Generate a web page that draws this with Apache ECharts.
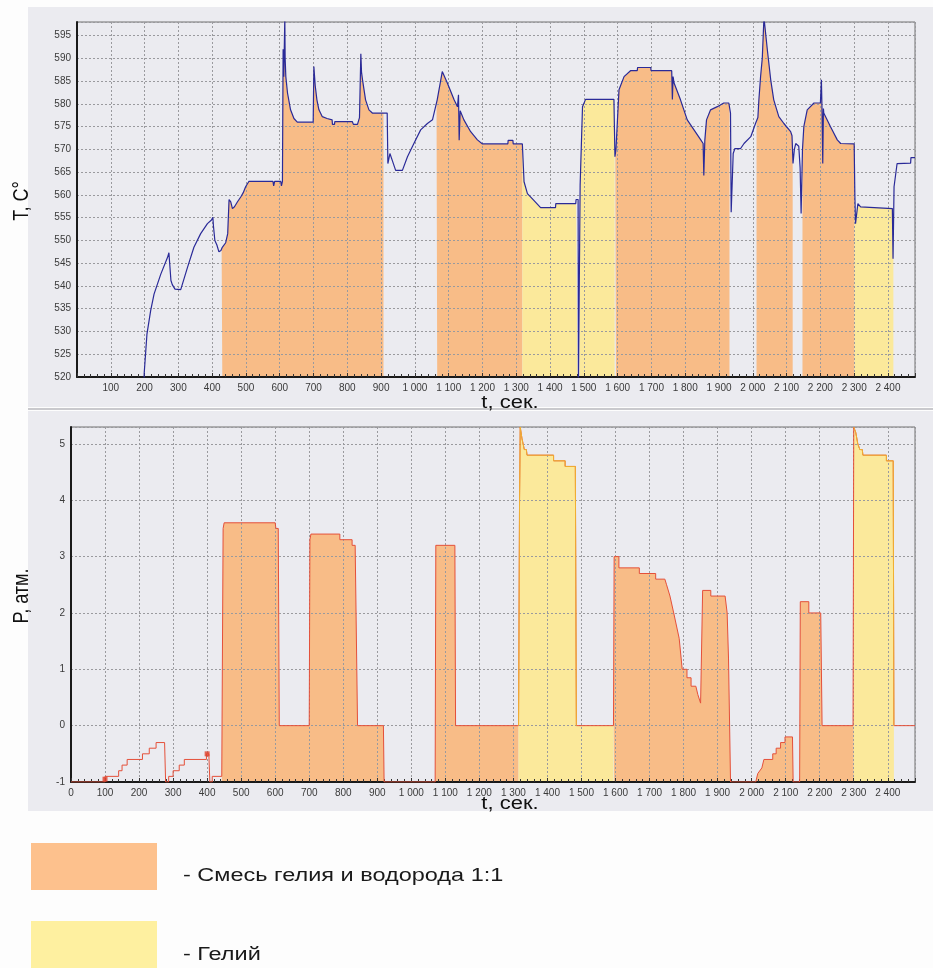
<!DOCTYPE html>
<html>
<head>
<meta charset="utf-8">
<script src="https://cdn.jsdelivr.net/npm/echarts@6/dist/echarts.min.js"></script>
<style>
  html, body { margin: 0; padding: 0; background: #fdfdfd; }
  #chart { width: 933px; height: 968px; }
</style>
</head>
<body>
<div id="chart"></div>
<script>
// Temperature of the sample, t (s) -> T (°C)
const tempTime = [
  198, 199, 207, 218, 228, 248, 268, 272, 275, 278, 282, 290, 307, 327, 346, 366, 386, 398, 402, 404,
  408, 414, 420, 426, 430, 440, 446, 450, 455, 460, 466, 475, 485, 492, 499, 509, 580, 582, 585, 603,
  605, 608, 610, 612, 615, 616, 618, 623, 632, 642, 652, 699, 701, 705, 710, 716, 726, 740, 755, 756,
  762, 763, 815, 818, 830, 836, 840, 842, 845, 854, 864, 874, 918, 920, 926, 933, 943, 963, 978, 997,
  1017, 1037, 1052, 1066, 1081, 1096, 1116, 1126, 1129, 1131, 1134, 1145, 1165, 1185, 1200, 1275, 1276, 1290, 1291, 1318,
  1323, 1333, 1352, 1372, 1416, 1417, 1476, 1477, 1483, 1484, 1487, 1489, 1496, 1505, 1589, 1592, 1595, 1604, 1619, 1638,
  1658, 1659, 1698, 1699, 1760, 1762, 1764, 1767, 1786, 1806, 1826, 1846, 1853, 1855, 1858, 1863, 1875, 1895, 1914, 1929,
  1934, 1936, 1942, 1947, 1964, 1974, 1994, 2008, 2015, 2018, 2023, 2028, 2033, 2043, 2053, 2062, 2077, 2092, 2112, 2116,
  2119, 2123, 2127, 2136, 2140, 2143, 2147, 2151, 2161, 2181, 2200, 2203, 2205, 2207, 2209, 2210, 2230, 2250, 2260, 2300,
  2302, 2304, 2311, 2319, 2320, 2413, 2415, 2418, 2427, 2430, 2467, 2468, 2480
];
const tempValue = [
  519, 521, 529.4, 534.6, 538.2, 542.6, 546.3, 547.3, 547, 541.2, 540.3, 539.3, 539.2, 544.1, 548.5, 551.5, 553.7, 554.5, 555.1, 553,
  550, 549, 547.5, 547.8, 548.5, 549.5, 551.5, 559, 558.5, 557, 557.4, 558.5, 559.6, 560.5, 561.8, 563, 563, 562, 563, 563,
  562, 563, 592, 586, 599, 590, 586, 582.4, 578.7, 576.8, 576, 576, 588.2, 584, 580.9, 578.7, 577.2, 576.8, 576.5, 575.5,
  575.5, 576.1, 576.1, 575.5, 575.5, 577, 591, 587, 585.3, 580.9, 578.7, 578, 578, 566.9, 569.1, 567.6, 565.4, 565.4, 568.4, 571.3,
  574.3, 575.7, 576.5, 580.9, 587.1, 584.6, 580.9, 579.4, 582, 572, 578.5, 576.5, 573.9, 572.1, 571.2, 571.2, 572, 572, 571.2, 571.2,
  562.9, 560.3, 558.8, 557.2, 557.2, 558.1, 558.1, 559, 559, 519, 519, 562.1, 579.4, 581, 581, 568.4, 570, 583.1, 586, 587.3,
  587.3, 588, 588, 587.3, 587.3, 581, 586, 584.6, 580.9, 576.5, 574.3, 572.1, 571.3, 564.3, 572, 576.5, 578.7, 579.4, 580.2, 580.2,
  578, 556.2, 569.1, 570.2, 570.2, 571.3, 572.8, 575.7, 577, 580.9, 586, 590, 599, 591.9, 585.3, 580.9, 577.2, 575.7, 573.9, 573,
  566.9, 570, 571.3, 570.7, 566, 555.9, 570, 575, 578.7, 580.2, 580.2, 585.3, 578, 566.9, 579, 578, 575, 572.1, 571.3, 571.2,
  560, 553.7, 558.1, 557.4, 557, 557, 546, 561.8, 566.9, 567, 567, 568.2, 568.2
];

// Chamber pressure, t (s) -> P (atm)
const pressTime = [
  0, 100, 100, 140, 140, 150, 150, 165, 165, 210, 210, 230, 230, 250, 250, 275, 278, 287, 287, 300,
  300, 318, 318, 333, 333, 398, 398, 405, 408, 415, 415, 443, 447, 450, 600, 602, 609, 612, 700, 702,
  705, 790, 790, 826, 826, 835, 842, 918, 920, 1070, 1072, 1128, 1130, 1315, 1318, 1320, 1325, 1332, 1338, 1340,
  1418, 1418, 1452, 1452, 1482, 1485, 1594, 1596, 1610, 1610, 1670, 1670, 1718, 1718, 1745, 1750, 1760, 1771, 1787, 1796,
  1810, 1810, 1822, 1822, 1836, 1842, 1850, 1855, 1856, 1880, 1880, 1922, 1928, 1932, 1938, 2012, 2018, 2030, 2036, 2062,
  2062, 2072, 2072, 2085, 2085, 2098, 2098, 2120, 2122, 2141, 2143, 2168, 2168, 2203, 2207, 2298, 2300, 2306, 2312, 2318,
  2325, 2327, 2396, 2396, 2416, 2418, 2480
];
const pressValue = [
  -1, -1, -0.9, -0.9, -0.8, -0.8, -0.7, -0.7, -0.6, -0.6, -0.5, -0.5, -0.4, -0.4, -0.3, -0.3, -1, -1, -0.9, -0.9,
  -0.8, -0.8, -0.7, -0.7, -0.6, -0.6, -0.5, -0.5, -1, -1, -0.9, -0.9, 3.5, 3.6, 3.6, 3.5, 3.5, 0, 0, 3.3,
  3.4, 3.4, 3.3, 3.3, 3.2, 3.2, 0, 0, -1, -1, 3.2, 3.2, 0, 0, 4, 5.3, 5.1, 4.9, 4.9, 4.8,
  4.8, 4.7, 4.7, 4.6, 4.6, 0, 0, 3.0, 3.0, 2.8, 2.8, 2.7, 2.7, 2.6, 2.6, 2.5, 2.3, 2.0, 1.55, 1.0,
  1.0, 0.85, 0.85, 0.7, 0.7, 0.55, 0.4, 0.4, 2.4, 2.4, 2.3, 2.3, 2.0, 1.2, -1, -1, -0.85, -0.75, -0.6, -0.6,
  -0.5, -0.5, -0.4, -0.4, -0.3, -0.3, -0.2, -0.2, -1, -1, 2.2, 2.2, 2.0, 2.0, 0, 0, 5.3, 5.2, 5.0, 4.9,
  4.9, 4.8, 4.8, 4.7, 4.7, 0, 0
];

// Logged valve events on the pressure trace
const eventTime = [100, 400];
const eventValue = [-0.95, -0.5];

// Gas supplied to the chamber: [start, end] in seconds
const tempMixPeriods = [[428, 907], [1064, 1318], [1593, 1931], [2011, 2118], [2147, 2301]];
const tempHeliumPeriods = [[1318, 1481], [1487, 1591], [2301, 2416]];
const pressMixPeriods = [[443, 920], [1070, 1315], [1594, 1938], [2012, 2122], [2141, 2300]];
const pressHeliumPeriods = [[1315, 1594], [2300, 2418]];
const pressHeliumLine = [[1315, 1485], [2300, 2418]];

// Axis ranges
const timeRange = [0, 2480];
const timeStep = 100;
const tempRange = [520, 598];
const tempStep = 5;
const pressRange = [-1, 5.3];
const pressStep = 1;

const legendLabels = ['- Смесь гелия и водорода 1:1', '- Гелий'];
const axisTitles = { temp: 'T, C°', press: 'P, атм.', time: 't, сек.' };

const MIX = '#f8bc87';
const HELIUM = '#fbe99b';
const MIX_KEY = '#fdc18d';
const HELIUM_KEY = '#fef0a0';
const PANEL = '#ebebf0';

function zip(ts, vs) { return ts.map((t, i) => [t, vs[i]]); }

function valueAt(ts, vs, x) {
  for (let i = 1; i < ts.length; i++) {
    if (ts[i] >= x) {
      const t0 = ts[i - 1], t1 = ts[i];
      if (t1 === t0) return vs[i];
      return vs[i - 1] + (vs[i] - vs[i - 1]) * (x - t0) / (t1 - t0);
    }
  }
  return vs[vs.length - 1];
}

function slice(ts, vs, a, b) {
  const pts = [[a, valueAt(ts, vs, a)]];
  for (let i = 0; i < ts.length; i++) {
    if (ts[i] > a && ts[i] < b) pts.push([ts[i], vs[i]]);
  }
  pts.push([b, valueAt(ts, vs, b)]);
  return pts;
}

function fillSeries(gridIdx, data, color) {
  return {
    type: 'line', xAxisIndex: gridIdx, yAxisIndex: gridIdx, data,
    symbol: 'none', silent: true, z: 1,
    lineStyle: { width: 0, opacity: 0 },
    areaStyle: { color, opacity: 1, origin: 'start' }
  };
}

function lineSeries(gridIdx, data, color, width) {
  return {
    type: 'line', xAxisIndex: gridIdx, yAxisIndex: gridIdx, data,
    symbol: 'none', silent: true, z: 5,
    lineStyle: { color, width }
  };
}

const fmtTime = v => v >= 1000 ? Math.floor(v / 1000) + ' ' + String(v % 1000).padStart(3, '0') : String(v);

const labelFont = { fontFamily: '"Liberation Sans", Arial, sans-serif', fontSize: 10, color: '#3a3a3a' };
const gridLine = { show: true, lineStyle: { color: '#9a9a9e', width: 1, type: [2, 2] } };

function xAxis(gridIndex, showZero) {
  return {
    type: 'value', gridIndex, min: timeRange[0], max: timeRange[1], interval: timeStep, z: 3,
    axisLine: { show: true, onZero: false, lineStyle: { color: '#1a1a1a', width: 2 } },
    axisTick: { show: true, inside: true, length: 4, lineStyle: { color: '#333' } },
    minorTick: { show: true, splitNumber: 5, length: 3, lineStyle: { color: '#333' } },
    axisLabel: Object.assign({ margin: 6, formatter: fmtTime, showMinLabel: showZero, showMaxLabel: false }, labelFont),
    splitLine: gridLine
  };
}

function yAxis(gridIndex, range, step) {
  return {
    type: 'value', gridIndex, min: range[0], max: range[1], interval: step, z: 3,
    axisLine: { show: true, onZero: false, lineStyle: { color: '#1a1a1a', width: 2 } },
    axisTick: { show: false },
    axisLabel: Object.assign({ margin: 6, showMaxLabel: false }, labelFont),
    splitLine: gridLine
  };
}

const series = [];
tempMixPeriods.forEach(p => series.push(fillSeries(0, slice(tempTime, tempValue, p[0], p[1]), MIX)));
tempHeliumPeriods.forEach(p => series.push(fillSeries(0, slice(tempTime, tempValue, p[0], p[1]), HELIUM)));
series.push(lineSeries(0, zip(tempTime, tempValue), '#2a2a98', 1.2));

pressMixPeriods.forEach(p => series.push(fillSeries(1, slice(pressTime, pressValue, p[0], p[1]), MIX)));
pressHeliumPeriods.forEach(p => series.push(fillSeries(1, slice(pressTime, pressValue, p[0], p[1]), HELIUM)));
series.push(lineSeries(1, zip(pressTime, pressValue), '#e4503a', 1));
pressHeliumLine.forEach(p => series.push(lineSeries(1, slice(pressTime, pressValue, p[0], p[1]), '#f0b232', 1)));
series.push({
  type: 'scatter', xAxisIndex: 1, yAxisIndex: 1, data: zip(eventTime, eventValue),
  symbol: 'rect', symbolSize: 5, silent: true, z: 6,
  itemStyle: { color: '#e0402a' }
});

const titleFont = '22px "Liberation Sans", Arial, sans-serif';
const keyFont = '23.5px "Liberation Sans", Arial, sans-serif';

const option = {
  animation: false,
  backgroundColor: '#fdfdfd',
  grid: [
    { left: 77, top: 22, width: 838, height: 355, show: true, backgroundColor: 'transparent', borderColor: '#707070', borderWidth: 1 },
    { left: 71, top: 427, width: 844, height: 355, show: true, backgroundColor: 'transparent', borderColor: '#707070', borderWidth: 1 }
  ],
  xAxis: [xAxis(0, false), xAxis(1, true)],
  yAxis: [yAxis(0, tempRange, tempStep), yAxis(1, pressRange, pressStep)],
  series,
  graphic: [
    { type: 'rect', z: -10, silent: true, shape: { x: 28, y: 7, width: 905, height: 400 }, style: { fill: PANEL } },
    { type: 'rect', z: -10, silent: true, shape: { x: 28, y: 411, width: 905, height: 400 }, style: { fill: PANEL } },
    { type: 'line', z: -10, silent: true, shape: { x1: 28, y1: 409, x2: 933, y2: 409 }, style: { stroke: '#c9c9cd', lineWidth: 2 } },
    { type: 'text', x: 22, y: 201, rotation: Math.PI / 2, scaleX: 0.82, silent: true,
      style: { text: axisTitles.temp, font: titleFont, fill: '#111', textAlign: 'center', textVerticalAlign: 'middle' } },
    { type: 'text', x: 22, y: 596, rotation: Math.PI / 2, scaleX: 0.82, silent: true,
      style: { text: axisTitles.press, font: titleFont, fill: '#111', textAlign: 'center', textVerticalAlign: 'middle' } },
    { type: 'text', x: 510, y: 403, scaleY: 0.82, silent: true,
      style: { text: axisTitles.time, font: titleFont, fill: '#111', textAlign: 'center', textVerticalAlign: 'middle' } },
    { type: 'text', x: 510, y: 804, scaleY: 0.82, silent: true,
      style: { text: axisTitles.time, font: titleFont, fill: '#111', textAlign: 'center', textVerticalAlign: 'middle' } },
    { type: 'rect', silent: true, shape: { x: 31, y: 843, width: 126, height: 47 }, style: { fill: MIX_KEY } },
    { type: 'rect', silent: true, shape: { x: 31, y: 921, width: 126, height: 47 }, style: { fill: HELIUM_KEY } },
    { type: 'text', x: 183, y: 876, scaleY: 0.82, silent: true,
      style: { text: legendLabels[0], font: keyFont, fill: '#1a1a1a', textAlign: 'left', textVerticalAlign: 'middle' } },
    { type: 'text', x: 183, y: 955, scaleY: 0.82, silent: true,
      style: { text: legendLabels[1], font: keyFont, fill: '#1a1a1a', textAlign: 'left', textVerticalAlign: 'middle' } }
  ]
};

const chart = echarts.init(document.getElementById('chart'), null, { renderer: 'canvas' });
chart.setOption(option);
</script>
</body>
</html>
